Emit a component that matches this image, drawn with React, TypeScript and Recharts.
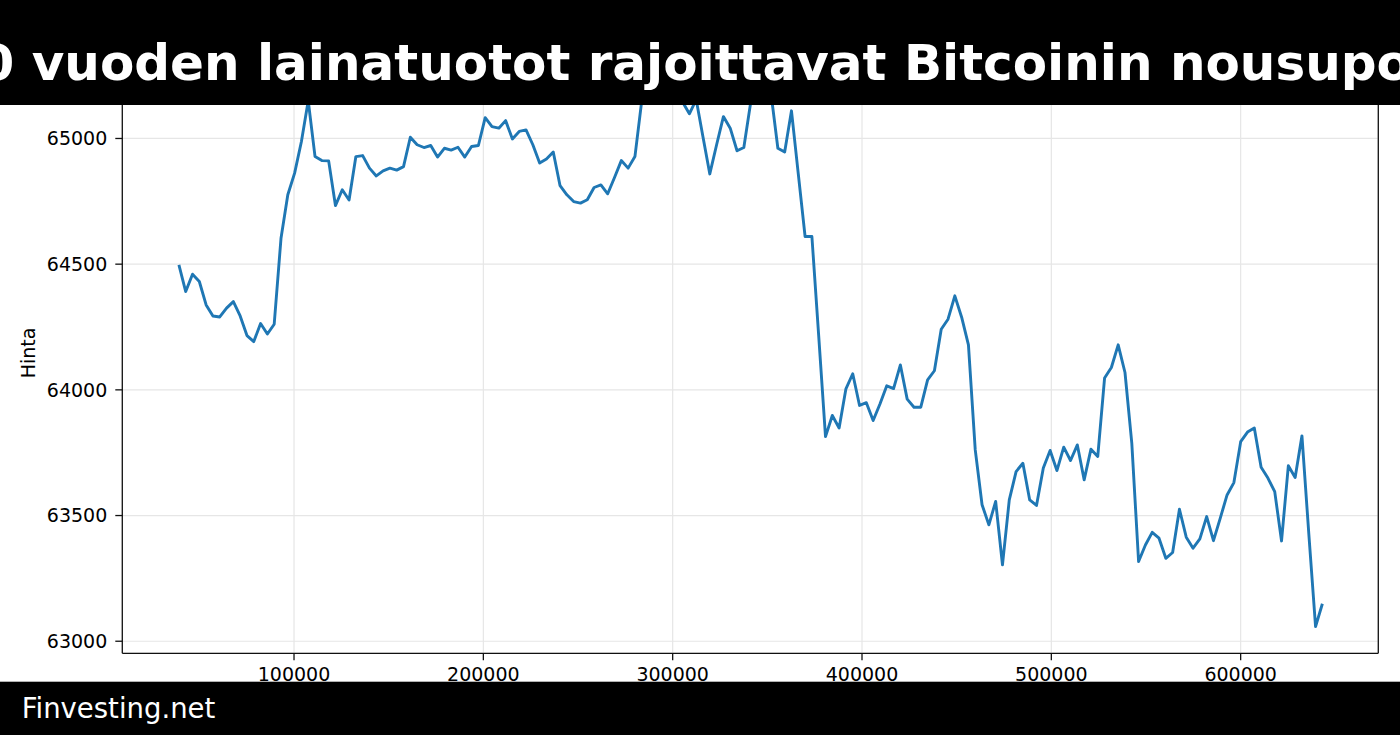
import { FC } from 'react';
import { LineChart, Line, CartesianGrid, XAxis, YAxis } from 'recharts';

// evenly spaced sample positions (row offsets on the x axis)
const xStart = 39200;
const xStep = 3595;

// price, one value per sample
const prices: number[] = [
    64497, 64391, 64460, 64431, 64338, 64294, 64290, 64325, 64351, 64294,
    64216, 64192, 64264, 64222, 64261, 64603, 64776, 64862, 64988, 65150,
    64928, 64912, 64911, 64733, 64796, 64755, 64928, 64932, 64882, 64851,
    64871, 64882, 64874, 64888, 65005, 64975, 64964, 64972, 64926, 64961,
    64954, 64965, 64926, 64968, 64972, 65083, 65047, 65041, 65071, 64998,
    65028, 65034, 64975, 64902, 64918, 64946, 64812, 64776, 64749, 64743,
    64756, 64805, 64815, 64780, 64845, 64912, 64882, 64928, 65150, 65190,
    65225, 65200, 65170, 65205, 65145, 65098, 65155, 65006, 64859, 64975,
    65087, 65041, 64951, 64964, 65142, 65210, 65233, 65178, 64961, 64946,
    65110, 64859, 64610, 64610, 64215, 63814, 63898, 63848, 64004, 64064,
    63938, 63949, 63878, 63944, 64016, 64005, 64099, 63963, 63931, 63931,
    64040, 64076, 64241, 64281, 64374, 64289, 64179, 63761, 63543, 63463,
    63556, 63304, 63562, 63675, 63708, 63562, 63540, 63689, 63759, 63679,
    63772, 63719, 63781, 63642, 63764, 63735, 64047, 64089, 64179, 64069,
    63788, 63317, 63383, 63433, 63410, 63330, 63353, 63525, 63414, 63370,
    63407, 63496, 63400, 63490, 63582, 63631, 63794, 63832, 63848, 63692,
    63649, 63595, 63399, 63698, 63651, 63817, 63430, 63058, 63149,
];

const xTicks = [100000, 200000, 300000, 400000, 500000, 600000];
const yTicks = [63000, 63500, 64000, 64500, 65000];

const title = '10 vuoden lainatuotot rajoittavat Bitcoinin nousupotentiaalia';
const yLabel = 'Hinta';
const footer = 'Finvesting.net';

const data = prices.map((y, i) => ({ x: xStart + i * xStep, y }));

const font = '"DejaVu Sans", sans-serif';
const tickStyle = { fontSize: 19, fill: '#000', fontFamily: font };

const App: FC = () => {
    return (
        <div style={{ position: 'absolute', left: 0, top: 0, width: 1400, height: 735, background: '#fff', overflow: 'hidden' }}>
            <LineChart
                width={1400}
                height={735}
                data={data}
                margin={{ top: 52.5, right: 20.7, bottom: 51.7, left: 22.3 }}
            >
                <CartesianGrid stroke="#e6e6e6" strokeWidth={1.2} />
                <XAxis
                    dataKey="x"
                    type="number"
                    domain={[9300, 672700]}
                    allowDataOverflow
                    ticks={xTicks}
                    interval={0}
                    height={30}
                    tickSize={7}
                    tickMargin={7}
                    tick={tickStyle}
                    axisLine={{ stroke: '#111', strokeWidth: 1.3 }}
                    tickLine={{ stroke: '#111', strokeWidth: 1.3 }}
                />
                <YAxis
                    type="number"
                    domain={[62952, 65342]}
                    allowDataOverflow
                    ticks={yTicks}
                    interval={0}
                    width={100}
                    tickSize={7}
                    tickMargin={8}
                    tick={tickStyle}
                    axisLine={{ stroke: '#111', strokeWidth: 1.3 }}
                    tickLine={{ stroke: '#111', strokeWidth: 1.3 }}
                    label={{
                        content: (props: any) => {
                            const vb = props.viewBox || {};
                            const cy = (vb.y ?? 52.5) + (vb.height ?? 600.8) / 2;
                            return (
                                <text
                                    x={35.5}
                                    y={cy}
                                    transform={`rotate(-90 35.5 ${cy})`}
                                    textAnchor="middle"
                                    fontSize={19}
                                    fontFamily={font}
                                    fill="#000"
                                >
                                    {yLabel}
                                </text>
                            );
                        },
                    }}
                />
                {/* right spine */}
                <YAxis
                    yAxisId="right"
                    orientation="right"
                    type="number"
                    domain={[62952, 65342]}
                    allowDataOverflow
                    width={1}
                    tick={false}
                    tickLine={false}
                    axisLine={{ stroke: '#111', strokeWidth: 1.3 }}
                />
                <Line
                    type="linear"
                    dataKey="y"
                    stroke="#1f77b4"
                    strokeWidth={2.9}
                    strokeLinejoin="round"
                    dot={false}
                    isAnimationActive={false}
                />
            </LineChart>

            <svg width={1400} height={735} style={{ position: 'absolute', left: 0, top: 0, pointerEvents: 'none' }}>
                <rect x={0} y={0} width={1400} height={105} fill="#000" />
                <text x={-55.3} y={80} fontSize={50} fontWeight="bold" fontFamily={font} fill="#fff">
                    {title}
                </text>
                <rect x={0} y={681.7} width={1400} height={53.3} fill="#000" />
                <text x={21.7} y={718} fontSize={27.5} fontFamily={font} fill="#fff">
                    {footer}
                </text>
            </svg>
        </div>
    );
};

export default App;
